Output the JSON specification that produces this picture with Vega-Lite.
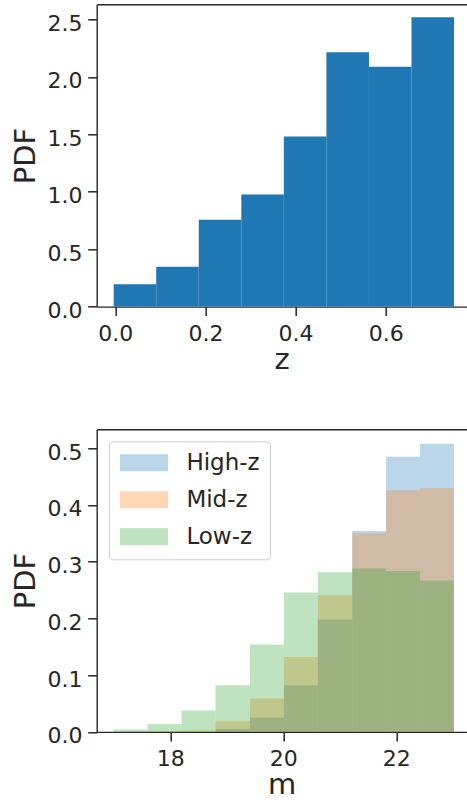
{
  "$schema": "https://vega.github.io/schema/vega-lite/v6.json",
  "usermeta": {"embedOptions": {"actions": false}},
  "padding": {"left": 11.7, "top": 4.3, "right": 0, "bottom": 0},
  "spacing": 54,
  "resolve": {"legend": {"color": "independent"}},
  "config": {
    "font": "DejaVu Sans",
    "view": {"stroke": null},
    "axis": {
      "domainColor": "#262626", "domainWidth": 1.4,
      "tickColor": "#262626", "tickSize": 9, "tickWidth": 1.5,
      "labelFontSize": 22, "labelColor": "#262626",
      "titleFontSize": 29, "titleFontWeight": "normal", "titleColor": "#262626",
      "grid": false, "labelFlush": false, "labelOverlap": false
    },
    "axisX": {"labelPadding": 8, "titlePadding": 1},
    "axisY": {"labelPadding": 5.7, "labelOffset": 4, "minExtent": 50, "maxExtent": 50, "titlePadding": 6}
  },
  "datasets": {
    "zhist": [
      {"z_lo": -0.0036, "z_hi": 0.0908, "pdf": 0.194},
      {"z_lo": 0.0908, "z_hi": 0.1852, "pdf": 0.348},
      {"z_lo": 0.1852, "z_hi": 0.2796, "pdf": 0.757},
      {"z_lo": 0.2796, "z_hi": 0.374, "pdf": 0.977},
      {"z_lo": 0.374, "z_hi": 0.4684, "pdf": 1.482},
      {"z_lo": 0.4684, "z_hi": 0.5629, "pdf": 2.216},
      {"z_lo": 0.5629, "z_hi": 0.6573, "pdf": 2.089},
      {"z_lo": 0.6573, "z_hi": 0.7517, "pdf": 2.52}
    ],
    "mhist": [
      {"group": "High-z", "m_lo": 17.0, "m_hi": 17.6, "pdf": 0},
      {"group": "High-z", "m_lo": 17.6, "m_hi": 18.2, "pdf": 0},
      {"group": "High-z", "m_lo": 18.2, "m_hi": 18.8, "pdf": 0},
      {"group": "High-z", "m_lo": 18.8, "m_hi": 19.41, "pdf": 0.005},
      {"group": "High-z", "m_lo": 19.41, "m_hi": 20.01, "pdf": 0.025},
      {"group": "High-z", "m_lo": 20.01, "m_hi": 20.61, "pdf": 0.082},
      {"group": "High-z", "m_lo": 20.61, "m_hi": 21.22, "pdf": 0.198},
      {"group": "High-z", "m_lo": 21.22, "m_hi": 21.82, "pdf": 0.354},
      {"group": "High-z", "m_lo": 21.82, "m_hi": 22.42, "pdf": 0.485},
      {"group": "High-z", "m_lo": 22.42, "m_hi": 23.02, "pdf": 0.508},
      {"group": "Mid-z", "m_lo": 17.0, "m_hi": 17.6, "pdf": 0},
      {"group": "Mid-z", "m_lo": 17.6, "m_hi": 18.2, "pdf": 0.0005},
      {"group": "Mid-z", "m_lo": 18.2, "m_hi": 18.8, "pdf": 0.0024},
      {"group": "Mid-z", "m_lo": 18.8, "m_hi": 19.41, "pdf": 0.0188},
      {"group": "Mid-z", "m_lo": 19.41, "m_hi": 20.01, "pdf": 0.0588},
      {"group": "Mid-z", "m_lo": 20.01, "m_hi": 20.61, "pdf": 0.132},
      {"group": "Mid-z", "m_lo": 20.61, "m_hi": 21.22, "pdf": 0.241},
      {"group": "Mid-z", "m_lo": 21.22, "m_hi": 21.82, "pdf": 0.35},
      {"group": "Mid-z", "m_lo": 21.82, "m_hi": 22.42, "pdf": 0.426},
      {"group": "Mid-z", "m_lo": 22.42, "m_hi": 23.02, "pdf": 0.43},
      {"group": "Low-z", "m_lo": 17.0, "m_hi": 17.6, "pdf": 0.004},
      {"group": "Low-z", "m_lo": 17.6, "m_hi": 18.2, "pdf": 0.014},
      {"group": "Low-z", "m_lo": 18.2, "m_hi": 18.8, "pdf": 0.0376},
      {"group": "Low-z", "m_lo": 18.8, "m_hi": 19.41, "pdf": 0.082},
      {"group": "Low-z", "m_lo": 19.41, "m_hi": 20.01, "pdf": 0.154},
      {"group": "Low-z", "m_lo": 20.01, "m_hi": 20.61, "pdf": 0.2456},
      {"group": "Low-z", "m_lo": 20.61, "m_hi": 21.22, "pdf": 0.2814},
      {"group": "Low-z", "m_lo": 21.22, "m_hi": 21.82, "pdf": 0.288},
      {"group": "Low-z", "m_lo": 21.82, "m_hi": 22.42, "pdf": 0.2838},
      {"group": "Low-z", "m_lo": 22.42, "m_hi": 23.02, "pdf": 0.2667}
    ]
  },
  "vconcat": [
    {
      "width": 370,
      "height": 302.3,
      "data": {"name": "zhist"},
      "resolve": {"axis": {"x": "independent"}},
      "layer": [
        {
          "mark": {"type": "bar", "color": "#1f77b4"},
          "encoding": {
            "x": {"field": "z_lo", "type": "quantitative",
                  "scale": {"domain": [-0.0413, 0.7798], "nice": false, "zero": false},
                  "axis": {"values": [0, 0.2, 0.4, 0.6], "format": ".1f", "title": "z"}},
            "x2": {"field": "z_hi"},
            "y": {"field": "pdf", "type": "quantitative",
                  "scale": {"domain": [0, 2.633], "nice": false},
                  "axis": {"values": [0, 0.5, 1, 1.5, 2, 2.5], "format": ".1f", "title": "PDF"}},
            "y2": {"datum": 0}
          }
        },
        {
          "mark": {"type": "bar", "opacity": 0},
          "encoding": {
            "x": {"field": "z_lo", "type": "quantitative",
                  "axis": {"orient": "top", "labels": false, "ticks": false, "title": null, "domain": true}},
            "x2": {"field": "z_hi"},
            "y": {"field": "pdf", "type": "quantitative"},
            "y2": {"datum": 0}
          }
        }
      ]
    },
    {
      "width": 370,
      "height": 302.6,
      "data": {"name": "mhist"},
      "resolve": {"axis": {"x": "independent"}},
      "layer": [
        {
          "mark": {"type": "bar", "opacity": 0.3},
          "encoding": {
            "x": {"field": "m_lo", "type": "quantitative",
                  "scale": {"domain": [16.697, 23.246], "nice": false, "zero": false},
                  "axis": {"values": [18, 20, 22], "format": "d", "title": "m"}},
            "x2": {"field": "m_hi"},
            "y": {"field": "pdf", "type": "quantitative", "stack": null,
                  "scale": {"domain": [0, 0.5334], "nice": false},
                  "axis": {"values": [0, 0.1, 0.2, 0.3, 0.4, 0.5], "format": ".1f", "title": "PDF"}},
            "y2": {"datum": 0},
            "color": {"field": "group", "type": "nominal",
                      "scale": {"domain": ["High-z", "Mid-z", "Low-z"], "range": ["#1f77b4", "#ff7f0e", "#2ca02c"]},
                      "legend": {"title": null, "orient": "none", "legendX": 12.3, "legendY": 12,
                                 "symbolType": "M-2.82,-1H2.82V1H-2.82Z", "symbolSize": 289, "symbolOffset": 13.5,
                                 "symbolOpacity": 0.3, "symbolStrokeWidth": 0,
                                 "labelFontSize": 23, "labelColor": "#262626", "labelOffset": 30.9,
                                 "padding": 10, "rowPadding": 13,
                                 "strokeColor": "#cccccc", "fillColor": "rgba(255,255,255,0.8)", "cornerRadius": 4}}
          }
        },
        {
          "mark": {"type": "bar", "opacity": 0},
          "encoding": {
            "x": {"field": "m_lo", "type": "quantitative",
                  "axis": {"orient": "top", "labels": false, "ticks": false, "title": null, "domain": true}},
            "x2": {"field": "m_hi"},
            "y": {"field": "pdf", "type": "quantitative", "stack": null},
            "y2": {"datum": 0}
          }
        }
      ]
    }
  ]
}
